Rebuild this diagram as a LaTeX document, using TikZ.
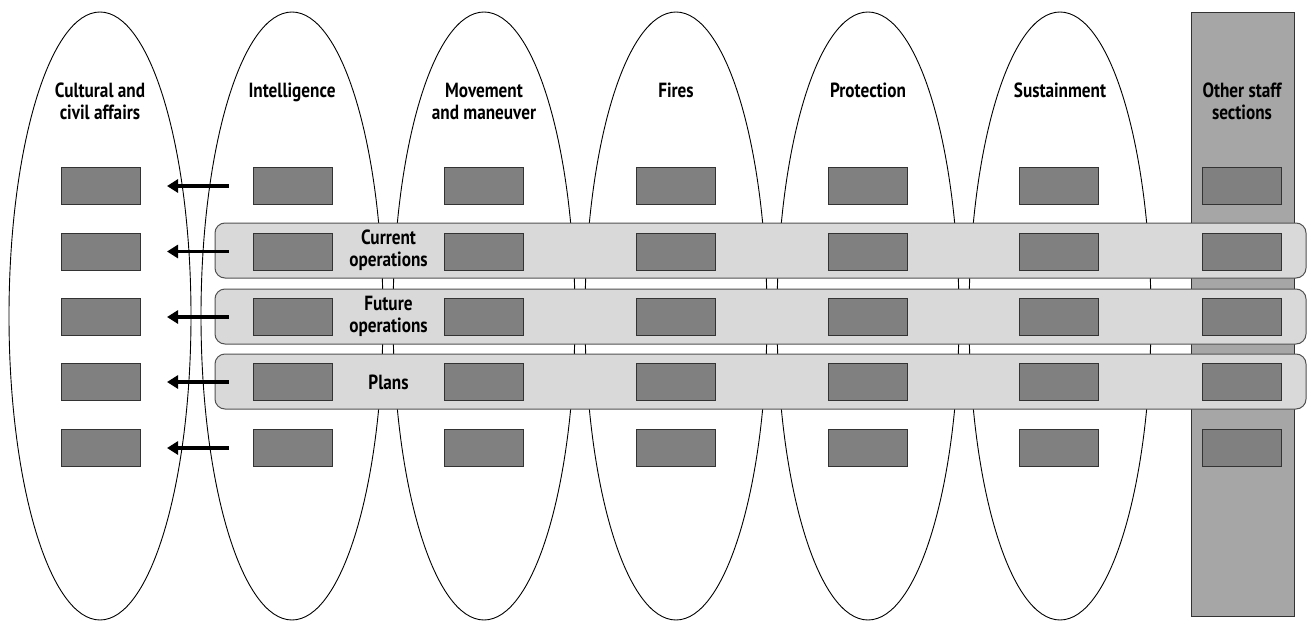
\documentclass[tikz,border=0pt]{standalone}
\usepackage{fontspec}
\setmainfont{PT Sans}[FakeStretch=0.84]
\usetikzlibrary{arrows.meta}
\definecolor{colfill}{HTML}{A6A6A6}
\definecolor{bandfill}{HTML}{D9D9D9}
\definecolor{boxfill}{HTML}{808080}
\definecolor{edge}{HTML}{333333}
\tikzset{
  lane/.style={draw=black, line width=0.9pt, fill=white},
  staffcol/.style={draw=edge, line width=1pt, fill=colfill},
  band/.style={draw=edge!85!white, line width=1pt, fill=bandfill, rounded corners=10pt},
  cell/.style={draw=edge, line width=1pt, fill=boxfill, minimum width=79pt, minimum height=37pt, inner sep=0pt},
  head/.style={font=\bfseries\fontsize{20.5}{22}\selectfont, align=center, anchor=base, inner sep=0pt},
  bandlabel/.style={font=\bfseries\fontsize{20.5}{22}\selectfont, align=center, inner sep=0pt},
  flow/.style={line width=3.5pt, -{Triangle[length=11pt,width=13pt]}}
}
\begin{document}
\begin{tikzpicture}[x=1pt,y=-1pt]
\useasboundingbox (0,0) rectangle (1307,621);
% lanes (ellipses)
\foreach \cx in {100,292,484,676,868,1060}{
  \draw[lane] (\cx,316) ellipse [x radius=91, y radius=304];
}
% other staff column
\draw[staffcol] (1191,12) rectangle (1294,616);
% bands
\draw[band] (215,223) rectangle (1306,278);
\draw[band] (215,289) rectangle (1306,344);
\draw[band] (215,354) rectangle (1306,409);
% headings (base = last line)
\node[head] (h1) at (100,119) {Cultural and\\civil affairs};
\node[head] (h2) at (292,97) {Intelligence};
\node[head] (h3) at (484,119) {Movement\\and maneuver};
\node[head] (h4) at (676,97) {Fires};
\node[head] (h5) at (868,97) {Protection};
\node[head] (h6) at (1060,97) {Sustainment};
\node[head] (h7) at (1242,119) {Other staff\\sections};
% band labels
\node[bandlabel] (lcur) at (388.5,250.5) {Current\\operations};
\node[bandlabel] (lfut) at (388.5,316.5) {Future\\operations};
\node[bandlabel] (lpla) at (388.5,382) {Plans};
% cells
\foreach \c/\cx in {a/101,b/292.5,c/484,d/676,e/868,f/1059,g/1242}{
  \foreach \r/\ry in {1/186,2/251.5,3/317,4/382,5/448}{
    \node[cell] (\c\r) at (\cx,\ry) {};
  }
}
% arrows
\foreach \r in {1,...,5}{
  \draw[flow] ([xshift=-24pt]b\r.west) -- ([xshift=26pt]a\r.east);
}
\end{tikzpicture}
\end{document}
